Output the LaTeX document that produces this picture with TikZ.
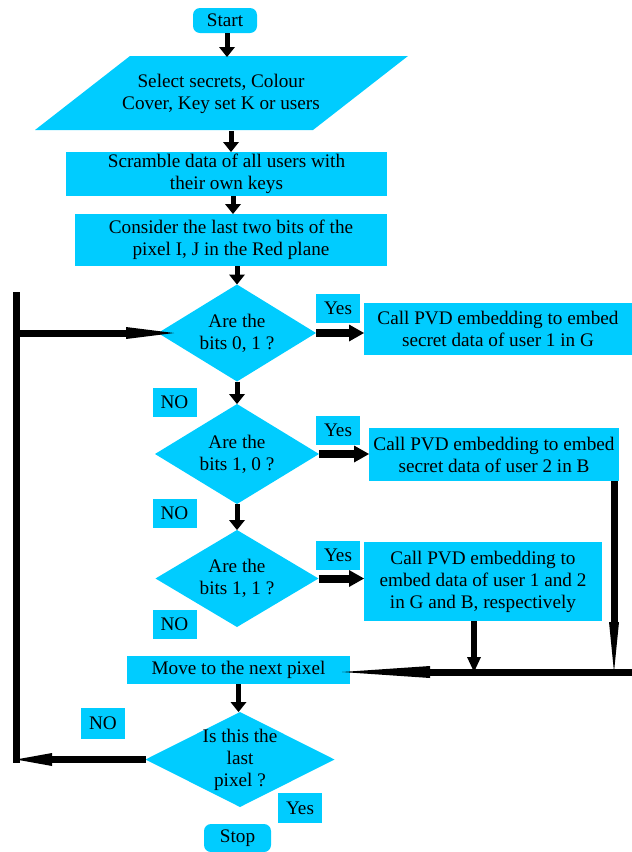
\documentclass[tikz,border=0pt]{standalone}
\usepackage{fontspec}
\setmainfont{Liberation Serif}
\usetikzlibrary{arrows.meta,shapes.geometric}
\definecolor{boxcyan}{RGB}{0,204,255}
\begin{document}
\begin{tikzpicture}[x=1pt,y=1pt,
  every node/.style={font=\fontsize{19.2}{22}\selectfont, inner sep=0pt, outer sep=0pt},
  pbox/.style={fill=boxcyan, align=center},
  term/.style={pbox, rounded corners=7pt},
  lab/.style={fill=boxcyan, minimum width=44pt, minimum height=29pt},
  dia/.style={diamond, fill=boxcyan},
  txt/.style={align=center},
  arr/.style={line width=5pt, -{Triangle[width=16pt,length=10pt,line width=0pt]}},
  yarr/.style={line width=8pt, -{Triangle[width=17pt,length=15pt,line width=0pt]}},
  thick line/.style={line width=7pt},
]
\useasboundingbox (0,0) rectangle (632,-852);

% shapes
\node[term, minimum width=64pt, minimum height=25pt] (start) at (225,-20.5) {Start};
\fill[boxcyan] (130,-56) -- (408,-56) -- (313,-130) -- (35,-130) -- cycle;
\node[txt, minimum width=200pt, minimum height=74pt] (sel) at (221,-94) {Select secrets, Colour\\Cover, Key set K or users};
\node[pbox, minimum width=321pt, minimum height=44pt] (scr) at (226.5,-174) {Scramble data of all users with\\their own keys};
\node[pbox, minimum width=312pt, minimum height=52pt] (con) at (231,-240) {Consider the last two bits of the\\pixel I, J in the Red plane};

\node[dia, minimum width=158pt, minimum height=97pt] (d1) at (237,-333) {};
\node[txt] (d1t) at (d1) {Are the\\bits 0, 1 ?};
\node[pbox, minimum width=268pt, minimum height=52pt] (b1) at (498,-329) {Call PVD embedding to embed\\secret data of user 1 in G};
\node[lab] (y1) at (338,-308.5) {Yes};
\node[lab] (n1) at (174.5,-402) {NO};

\node[dia, minimum width=164pt, minimum height=100pt] (d2) at (237,-454) {};
\node[txt] (d2t) at (d2) {Are the\\bits 1, 0 ?};
\node[pbox, minimum width=250pt, minimum height=53pt] (b2) at (494,-454.5) {Call PVD embedding to embed\\secret data of user 2 in B};
\node[lab] (y2) at (338,-430.5) {Yes};
\node[lab] (n2) at (174.5,-513) {NO};

\node[dia, minimum width=163pt, minimum height=97pt] (d3) at (237,-578.5) {};
\node[txt] (d3t) at (d3) {Are the\\bits 1, 1 ?};
\node[pbox, minimum width=238pt, minimum height=79pt] (b3) at (483,-581.5) {Call PVD embedding to\\embed data of user 1 and 2\\in G and B, respectively};
\node[lab] (y3) at (338,-555.5) {Yes};
\node[lab] (n3) at (174.5,-624) {NO};

\node[pbox, minimum width=223pt, minimum height=28pt] (mv) at (238.5,-670) {Move to the next pixel};

\node[dia, minimum width=189pt, minimum height=95pt] (d4) at (240,-759.5) {};
\node[txt] (d4t) at (d4) {Is this the\\last\\pixel ?};
\node[lab, minimum height=31pt] (n4) at (103,-723.5) {NO};
\node[lab, minimum height=30pt] (y4) at (300,-808) {Yes};
\node[term, minimum width=67pt, minimum height=28pt] (stop) at (237.5,-838) {Stop};

% coordinates
\coordinate (j1) at (474,-672);
\coordinate (j2) at (614,-672);
\coordinate (rend) at (632,-672);
\coordinate (L0) at (16,-292);
\coordinate (L1) at (16,-759.5);

% connectors
\draw[arr] ([xshift=2pt]start.south) -- ([xshift=2pt]start.south |- sel.north);
\draw[arr] ([xshift=10pt]sel.south) -- ([xshift=10pt]sel.south |- scr.north);
\draw[arr] ([xshift=6.5pt]scr.south) -- ([xshift=6.5pt]scr.south |- con.north);
\draw[arr] (con.south -| d1.north) -- (d1.north);
\draw[yarr] (d1.east) -- (d1.east -| b1.west);
\draw[arr] (d1.south) -- (d2.north);
\draw[yarr] (d2.east) -- (d2.east -| b2.west);
\draw[arr] (d2.south) -- (d3.north);
\draw[yarr] (d3.east) -- (d3.east -| b3.west);
\draw[line width=6pt, -{Triangle[width=14pt,length=15pt,line width=0pt]}] (b3.south -| j1) -- (j1);
\draw[line width=7pt, -{Triangle[width=10pt,length=50pt,line width=0pt]}] (b2.south -| j2) -- (j2);
\draw[thick line, shorten >=-8pt, -{Triangle[width=12pt,length=88pt,line width=0pt]}] (rend) -- (mv.east |- rend);
\draw[arr] (mv.south) -- (mv.south |- d4.north);
\draw[thick line, -{Triangle[width=13pt,length=36pt,line width=0pt]}] (d4.west) -- (L1);
\draw[thick line] (L0) -- ([yshift=-3.5pt]L1);
\draw[thick line, shorten >=-16pt, -{Triangle[width=12pt,length=48pt,line width=0pt]}] (d1.west -| L0) -- (d1.west);
\end{tikzpicture}
\end{document}
